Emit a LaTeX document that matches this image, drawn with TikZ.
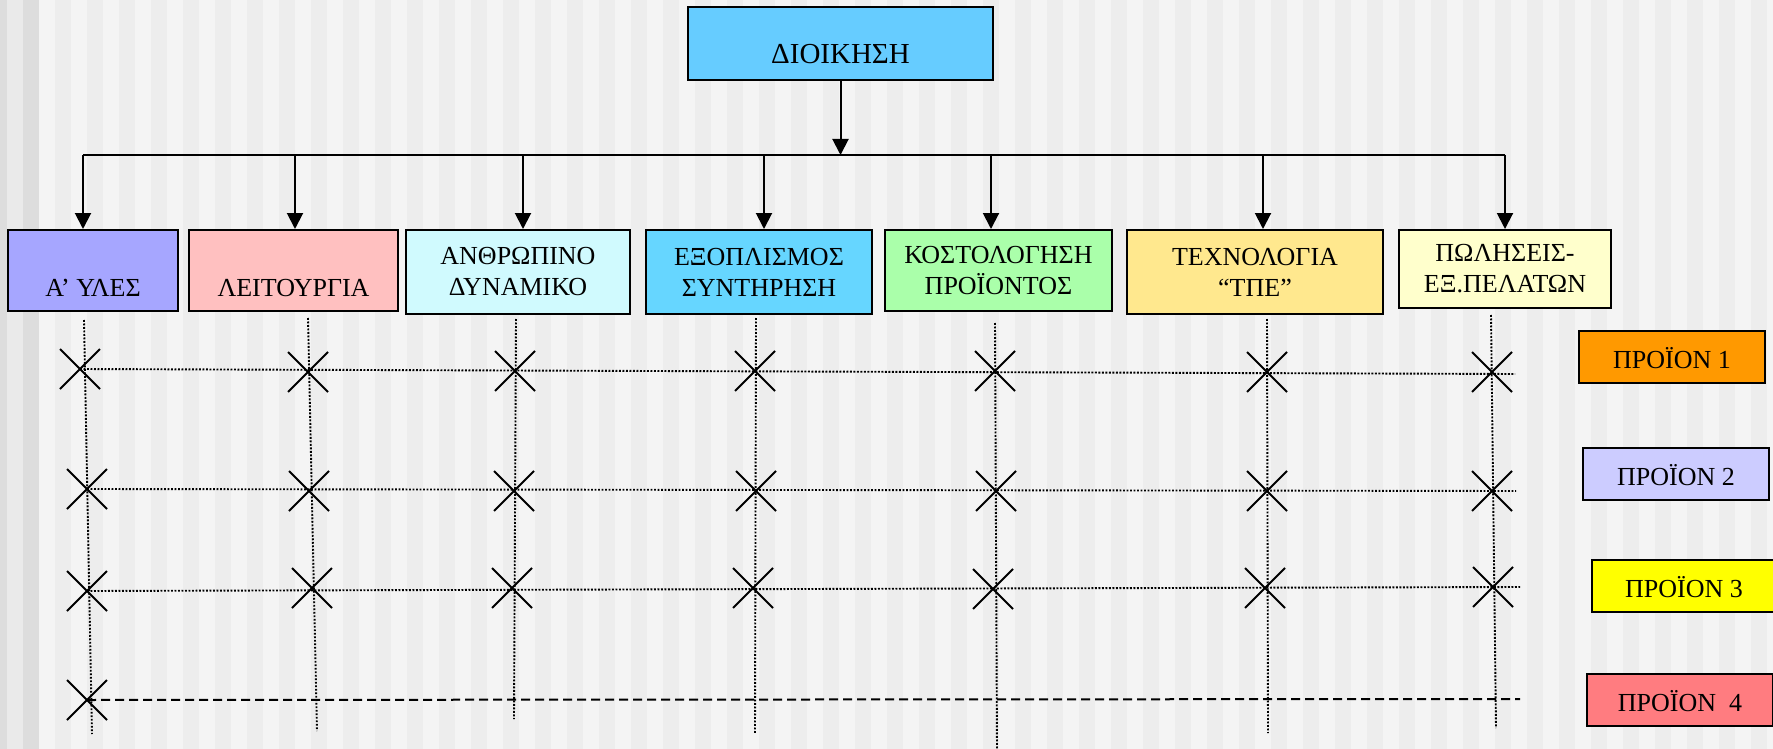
\documentclass[tikz,border=0pt]{standalone}
\usepackage{fontspec}
\setmainfont{Liberation Serif}
\usetikzlibrary{arrows.meta,shapes.misc}
\definecolor{bgl}{HTML}{F4F4F4}
\definecolor{bgd}{HTML}{EDEDED}
\definecolor{bge}{HTML}{DDDDDD}
\definecolor{bgf}{HTML}{EAEAEA}
\definecolor{cTop}{HTML}{66CCFF}
\definecolor{cA}{HTML}{A6A6FF}
\definecolor{cB}{HTML}{FFC0C0}
\definecolor{cC}{HTML}{D0FAFE}
\definecolor{cD}{HTML}{66D6FF}
\definecolor{cE}{HTML}{AAFFAA}
\definecolor{cF}{HTML}{FFE88E}
\definecolor{cG}{HTML}{FFFFCC}
\definecolor{pA}{HTML}{FF9900}
\definecolor{pB}{HTML}{CCCCFF}
\definecolor{pC}{HTML}{FFFF00}
\definecolor{pD}{HTML}{FF7C80}
\begin{document}
\begin{tikzpicture}[x=0.5pt,y=-0.5pt,
  box/.style={draw=black, line width=1pt, inner sep=0pt, align=center,
    font=\fontsize{13}{15.5}\selectfont},
  onel/.style={text height=25.5pt, text depth=0pt},
  prod/.style={box, minimum height=26pt, text height=11pt, text depth=0pt},
  arr/.style={line width=1pt, -{Triangle[width=8pt,length=8pt]}},
  xm/.style={draw, cross out, line width=1pt, minimum size=19pt, inner sep=0pt},
  vdot/.style={line width=0.95pt, dash pattern=on 0.9pt off 0.85pt},
  hdash/.style={line width=1pt, dash pattern=on 4.5pt off 2.5pt}]
\useasboundingbox (0,0) rectangle (1773,749);
% background stripes
\fill[bgl] (0,0) rectangle (1773,749);
\foreach \i in {0,...,54} \fill[bgd] ({55+32*\i},0) rectangle ({71+32*\i},749);
\fill[bge] (0,0) rectangle (7,749);
\fill[bgf] (7,0) rectangle (23,749);
\fill[bge] (23,0) rectangle (39,749);

% top box
\node[box, fill=cTop, minimum width=152.5pt, minimum height=36.5pt,
  font=\fontsize{14.5}{17}\selectfont, text height=20.5pt, text depth=0pt]
  (top) at (840.5,43.5) {ΔΙΟΙΚΗΣΗ};

% department boxes
\node[box, onel, fill=cA, minimum width=85pt, minimum height=40.5pt] (b1) at (93,270.5) {Α’ ΥΛΕΣ};
\node[box, onel, fill=cB, minimum width=104.5pt, minimum height=40.5pt] (b2) at (293.5,270.5) {ΛΕΙΤΟΥΡΓΙΑ};
\node[box, fill=cC, minimum width=112pt, minimum height=42pt] (b3) at (518,272) {ΑΝΘΡΩΠΙΝΟ\\ΔΥΝΑΜΙΚΟ};
\node[box, fill=cD, minimum width=113pt, minimum height=42pt] (b4) at (759,272) {ΕΞΟΠΛΙΣΜΟΣ\\ΣΥΝΤΗΡΗΣΗ};
\node[box, fill=cE, minimum width=113.5pt, minimum height=40.5pt] (b5) at (998.5,270.5) {ΚΟΣΤΟΛΟΓΗΣΗ\\ΠΡΟΪΟΝΤΟΣ};
\node[box, fill=cF, minimum width=128pt, minimum height=42pt] (b6) at (1255,272) {ΤΕΧΝΟΛΟΓΙΑ\\“ΤΠΕ”};
\node[box, fill=cG, minimum width=106pt, minimum height=39pt] (b7) at (1505,269) {ΠΩΛΗΣΕΙΣ-\\ΕΞ.ΠΕΛΑΤΩΝ};

% product boxes
\node[prod, fill=pA, minimum width=93pt] (p1) at (1672,357) {ΠΡΟΪΟΝ 1};
\node[prod, fill=pB, minimum width=93pt] (p2) at (1676,474) {ΠΡΟΪΟΝ 2};
\node[prod, fill=pC, minimum width=92pt] (p3) at (1684,586) {ΠΡΟΪΟΝ 3};
\node[prod, fill=pD, minimum width=93pt] (p4) at (1680,700) {ΠΡΟΪΟΝ\ \ 4};

% bus and arrows
\coordinate (bus) at (840.5,155);
\coordinate (br1) at (83,155);
\coordinate (br2) at (295,155);
\coordinate (br3) at (523,155);
\coordinate (br4) at (764,155);
\coordinate (br5) at (991,155);
\coordinate (br6) at (1263,155);
\coordinate (br7) at (1505,155);
\draw[line width=1pt] (br1) -- (br7);
\draw[arr] (top.south) -- (bus);
\foreach \k in {1,...,7} \draw[arr] (br\k) -- (br\k |- b\k.north);

% column coordinates
\coordinate (ct1) at (84,320);   \coordinate (cb1) at (92,734);
\coordinate (ct2) at (308,318);  \coordinate (cb2) at (317,731);
\coordinate (ct3) at (516,319);  \coordinate (cb3) at (514,719);
\coordinate (ct4) at (756,318);  \coordinate (cb4) at (755,733);
\coordinate (ct5) at (995,323);  \coordinate (cb5) at (997,752);
\coordinate (ct6) at (1267,319); \coordinate (cb6) at (1268,733);
\coordinate (ct7) at (1491,315); \coordinate (cb7) at (1496,728);
\foreach \k in {1,...,7} \draw[vdot] (ct\k) -- (cb\k);

% X marks
\node[xm] (xa1) at (80,369) {};
\node[xm] (xa2) at (308,372) {};
\node[xm] (xa3) at (515,371) {};
\node[xm] (xa4) at (755,371) {};
\node[xm] (xa5) at (995,371) {};
\node[xm] (xa6) at (1267,372) {};
\node[xm] (xa7) at (1492,372) {};
\node[xm] (xb1) at (87,489) {};
\node[xm] (xb2) at (309,491) {};
\node[xm] (xb3) at (514,491) {};
\node[xm] (xb4) at (756,491) {};
\node[xm] (xb5) at (996,491) {};
\node[xm] (xb6) at (1267,491) {};
\node[xm] (xb7) at (1492,491) {};
\node[xm] (xc1) at (87,591) {};
\node[xm] (xc2) at (312,588) {};
\node[xm] (xc3) at (512,588) {};
\node[xm] (xc4) at (753,588) {};
\node[xm] (xc5) at (993,589) {};
\node[xm] (xc6) at (1265,588) {};
\node[xm] (xc7) at (1493,587) {};
\node[xm] (xd1) at (87,700) {};

% row lines
\coordinate (re1) at (1515,374);
\coordinate (re2) at (1516,491);
\coordinate (re3) at (1520,587);
\coordinate (re4) at (1520,699);
\draw[vdot] (xa1.center) -- (re1);
\draw[vdot] (xb1.center) -- (re2);
\draw[vdot] (xc1.center) -- (re3);
\draw[hdash] (xd1.center) -- (re4);
\end{tikzpicture}
\end{document}
